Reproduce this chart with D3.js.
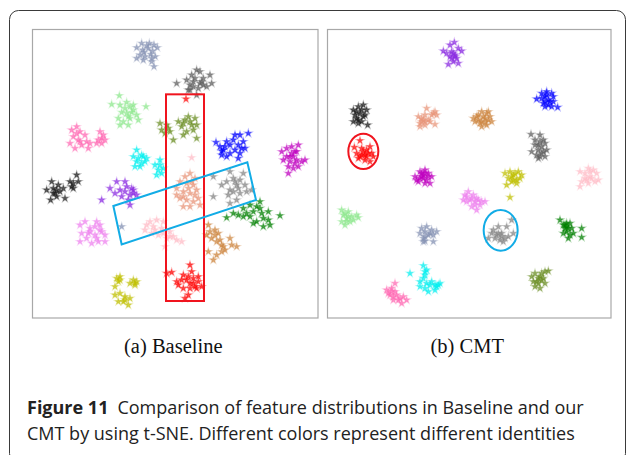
<!DOCTYPE html>
<html>
<head>
<meta charset="utf-8">
<script src="https://cdn.jsdelivr.net/npm/d3@7"></script>
<style>
  html, body { margin: 0; padding: 0; background: #fff; }
  svg { display: block; }
</style>
</head>
<body>
<svg id="fig" width="627" height="455"></svg>
<script>
// Identities shared by both embeddings (one colour per identity)
const identities = ["slate", "dimgray", "lightgreen", "olivedrab", "hotpink", "cyan",
  "blue", "magenta", "darksalmon", "gray", "black", "blueviolet", "green", "violet",
  "pink", "peru", "red", "yellow"];
const identityColors = ["#8592b4", "#5e5e5e", "#8ee88e", "#6b8e23", "#ff69b4", "#00f0f0",
  "#0000ff", "#bf00bf", "#e9967a", "#858585", "#1a1a1a", "#8a2be2", "#008000", "#ee82ee",
  "#ffbcc8", "#cd853f", "#ff0000", "#bfbf00"];

// t-SNE embedding of the Baseline features (one list per identity, same order as identities)
const baselineTsne = [
  [[320,68],[338,75],[358,55],[372,60],[382,68],[345,95],[362,88],[376,95],[320,100],[340,105],[365,110],[372,125],[335,55],[355,70],[368,78],[342,82],[350,62],[365,100],[330,90],[275,605]],
  [[440,175],[470,165],[485,150],[500,135],[510,140],[520,160],[540,150],[545,175],[530,185],[505,190],[490,185],[475,195],[500,210],[515,170],[495,160],[510,175],[480,180],[490,170],[520,180],[480,195]],
  [[245,238],[268,212],[270,240],[290,232],[300,245],[310,255],[290,265],[275,262],[265,280],[280,290],[300,280],[320,270],[325,285],[348,245],[295,300],[270,300],[305,262],[285,250],[295,275],[310,240]],
  [[390,295],[395,315],[410,300],[420,320],[430,345],[445,290],[460,295],[475,275],[480,290],[495,280],[500,300],[470,320],[460,330],[500,340],[405,325],[455,305],[485,300],[415,310],[465,285],[490,315]],
  [[125,315],[140,305],[150,320],[130,335],[145,345],[120,355],[135,370],[155,360],[165,330],[170,350],[175,370],[180,355],[210,320],[220,330],[205,345],[215,355],[225,345],[200,355],[140,325],[150,350],[215,340]],
  [[320,375],[310,395],[320,410],[330,425],[340,395],[345,410],[335,390],[315,425],[350,400],[375,420],[390,405],[385,435],[395,445],[380,450],[400,430],[325,400],[335,415],[390,420]],
  [[558,352],[570,365],[580,375],[575,390],[590,350],[600,360],[615,330],[630,330],[655,325],[640,350],[645,370],[630,385],[615,375],[600,385],[625,400],[590,395],[610,345],[585,365],[625,360],[635,370],[575,378]],
  [[755,380],[770,370],[785,365],[805,360],[800,380],[790,395],[770,395],[760,405],[780,410],[800,405],[815,410],[825,405],[775,425],[790,430],[805,425],[775,445],[795,380],[785,385],[795,415],[780,395]],
  [[465,455],[480,445],[495,460],[450,470],[470,475],[490,480],[440,490],[460,500],[480,505],[500,495],[450,520],[470,525],[490,530],[505,520],[460,545],[480,545],[510,540],[440,510],[475,490],[460,515],[495,510],[485,470]],
  [[550,455],[575,480],[590,470],[600,440],[610,460],[620,480],[630,465],[645,480],[610,500],[630,505],[650,500],[665,495],[595,510],[600,535],[620,525],[550,515],[640,445],[615,470],[625,490],[600,495]],
  [[50,495],[65,470],[70,490],[85,480],[90,500],[80,515],[62,525],[105,520],[100,490],[120,470],[130,490],[140,450],[145,470],[125,485],[75,505],[80,495],[130,475],[70,505]],
  [[215,525],[240,490],[260,470],[285,470],[270,495],[255,505],[285,500],[295,525],[300,540],[310,495],[320,510],[300,510],[275,515],[305,490],[290,485],[310,505]],
  [[590,578],[610,565],[625,570],[640,550],[660,540],[670,560],[690,530],[690,550],[700,580],[715,560],[720,600],[700,605],[680,590],[660,575],[650,565],[750,572],[715,585],[670,595],[680,545],[695,565],[640,575]],
  [[150,600],[165,590],[180,610],[200,590],[210,600],[155,625],[175,625],[195,630],[215,620],[225,630],[150,650],[185,655],[205,650],[225,650],[170,640],[195,605],[180,620],[200,640],[210,615]],
  [[345,615],[360,590],[380,585],[400,590],[370,605],[395,610],[420,620],[430,635],[410,640],[385,630],[365,625],[440,645],[405,665],[455,650],[350,600],[375,615],[400,625],[420,635],[485,398]],
  [[535,600],[540,620],[555,615],[565,625],[545,640],[560,650],[575,660],[600,640],[605,660],[620,665],[575,680],[560,690],[535,680],[585,675],[550,705],[530,630],[555,630],[570,645],[580,665]],
  [[410,745],[425,742],[440,770],[460,750],[480,720],[485,740],[470,765],[490,760],[505,755],[515,785],[500,790],[480,790],[460,790],[475,810],[445,780],[490,775],[465,820],[505,770],[475,755],[480,775],[495,785],[455,765],[468,222]],
  [[260,760],[270,755],[265,770],[255,785],[310,765],[320,770],[315,780],[300,775],[255,810],[270,805],[265,830],[280,830],[295,840],[300,820],[285,815],[270,765],[315,775],[285,825]]
];

// t-SNE embedding of the CMT features
const cmtTsne = [
  [[290,610],[305,605],[285,625],[300,635],[315,625],[320,615],[335,620],[300,648],[325,630],[325,650],[295,650],[300,620],[310,630],[295,640]],
  [[618,328],[630,345],[645,330],[655,345],[660,355],[640,360],[630,360],[620,380],[640,375],[655,380],[665,375],[645,395],[660,395],[640,400],[645,350],[650,365],[650,385],[635,390]],
  [[50,555],[55,570],[70,560],[65,580],[80,575],[95,570],[100,578],[75,590],[60,600],[50,590],[85,585],[60,565],[70,575],[65,590]],
  [[620,755],[630,745],[640,760],[650,745],[660,740],[670,738],[650,765],[640,775],[630,785],[660,775],[625,770],[645,790],[645,755],[655,760],[635,770]],
  [[210,775],[185,795],[200,790],[210,800],[195,810],[215,810],[220,825],[235,815],[245,825],[205,825],[230,835],[190,805],[200,800],[205,815],[225,820]],
  [[255,745],[295,722],[305,735],[300,750],[295,760],[285,770],[305,775],[300,790],[320,770],[330,780],[340,780],[345,775],[330,795],[310,800],[285,785],[300,740],[315,780],[335,785]],
  [[635,222],[650,205],[665,200],[680,205],[660,215],[670,225],[655,235],[670,240],[685,230],[698,247],[680,245],[660,245],[685,215],[665,210],[675,230],[660,230],[650,220]],
  [[270,455],[285,440],[300,435],[310,445],[320,455],[295,460],[280,470],[300,475],[315,475],[290,455],[305,465],[275,465],[290,445],[295,450],[310,455],[285,460],[300,445]],
  [[280,275],[290,290],[300,270],[305,250],[310,285],[285,305],[300,300],[320,270],[330,260],[335,270],[330,298],[295,285],[290,280],[300,290],[285,295],[325,265],[315,290]],
  [[490,640],[505,615],[520,605],[530,625],[545,605],[550,635],[565,625],[560,585],[540,640],[525,645],[500,625],[515,630],[535,650],[520,625],[530,635],[510,640]],
  [[85,255],[100,245],[115,240],[90,270],[105,265],[120,270],[125,255],[85,290],[100,295],[110,290],[128,300],[95,280],[95,260],[110,255],[115,275],[100,285]],
  [[355,78],[375,60],[388,52],[400,70],[410,78],[380,80],[390,90],[375,95],[395,100],[385,110],[370,118],[400,115],[365,85],[385,85],[390,95],[380,100]],
  [[705,585],[715,600],[725,605],[735,595],[740,610],[725,620],[715,625],[735,630],[745,625],[730,640],[770,610],[770,637],[720,610],[725,595],[730,610],[720,600]],
  [[420,510],[430,500],[440,520],[425,530],[450,530],[465,540],[480,530],[455,555],[440,545],[435,525],[460,525],[415,525],[425,515],[445,510],[450,540],[470,530],[455,520]],
  [[765,440],[780,445],[790,430],[805,435],[815,445],[780,460],[795,455],[810,470],[790,475],[770,470],[765,485],[820,465],[795,440],[800,460],[785,465]],
  [[445,280],[460,270],[470,260],[485,265],[495,275],[500,290],[480,280],[465,295],[485,300],[470,305],[450,290],[490,260],[475,275],[460,285],[480,292],[490,285],[470,290],[455,275]],
  [[105,347],[88,367],[110,370],[125,375],[135,365],[95,385],[110,390],[125,395],[140,385],[145,395],[120,405],[135,410],[100,400],[115,380],[120,390],[130,385],[105,395]],
  [[540,445],[550,460],[555,440],[565,450],[580,440],[590,450],[575,465],[560,470],[545,480],[575,475],[585,460],[560,455],[570,445],[565,465],[555,517]]
];

// Highlighted regions, in embedding units
const baselineBox = [[408,208],[522,828]];
const baselineBand = [[250,543],[652,412],[678,525],[275,658]];
const cmtRedRing = {cx: 115, cy: 379, rx: 45, ry: 53};
const cmtBlueRing = {cx: 527, cy: 616, rx: 51, ry: 61};

const panelTitles = ["(a) Baseline", "(b) CMT"];
const captionLead = "Figure 11";
const captionLines = ["Comparison of feature distributions in Baseline and our",
  "CMT by using t-SNE. Different colors represent different identities"];

const svg = d3.select("#fig");

// outer rounded frame of the figure
svg.append("rect")
  .attr("x", 9.5).attr("y", 10.5).attr("width", 616).attr("height", 452)
  .attr("rx", 9).attr("ry", 9)
  .attr("fill", "none").attr("stroke", "#3a3a3a").attr("stroke-width", 1);

const panels = [
  {left: 32.5, top: 29.5, right: 318, bottom: 318, ox: 30, data: baselineTsne},
  {left: 327.5, top: 29.5, right: 611, bottom: 318, ox: 325, data: cmtTsne}
];

const star = d3.symbol().type(d3.symbolStar).size(15);

panels.forEach((p, pi) => {
  const x = d3.scaleLinear().domain([0, 870]).range([p.ox, p.ox + 290]);
  const y = d3.scaleLinear().domain([0, 885]).range([25, 320]);
  const g = svg.append("g");

  g.append("rect")
    .attr("x", p.left).attr("y", p.top)
    .attr("width", p.right - p.left).attr("height", p.bottom - p.top)
    .attr("fill", "#fff").attr("stroke", "#a8a8a8").attr("stroke-width", 1.2);

  p.data.forEach((pts, k) => {
    g.append("g").selectAll("path").data(pts).join("path")
      .attr("d", star)
      .attr("transform", d => `translate(${x(d[0])},${y(d[1])})`)
      .attr("fill", identityColors[k])
      .attr("fill-opacity", 0.72)
      .attr("stroke", identityColors[k])
      .attr("stroke-opacity", 0.3)
      .attr("stroke-width", 1.3);
  });

  if (pi === 0) {
    g.append("rect")
      .attr("x", x(baselineBox[0][0])).attr("y", y(baselineBox[0][1]))
      .attr("width", x(baselineBox[1][0]) - x(baselineBox[0][0]))
      .attr("height", y(baselineBox[1][1]) - y(baselineBox[0][1]))
      .attr("fill", "none").attr("stroke", "#f0141e").attr("stroke-width", 2);
    g.append("polygon")
      .attr("points", baselineBand.map(d => [x(d[0]), y(d[1])].join(",")).join(" "))
      .attr("fill", "none").attr("stroke", "#12ace6").attr("stroke-width", 2);
  } else {
    [[cmtRedRing, "#f0141e"], [cmtBlueRing, "#12ace6"]].forEach(([r, c]) => {
      g.append("ellipse")
        .attr("cx", x(r.cx)).attr("cy", y(r.cy))
        .attr("rx", x(r.rx) - x(0)).attr("ry", y(r.ry) - y(0))
        .attr("fill", "none").attr("stroke", c).attr("stroke-width", 2);
    });
  }

  svg.append("text")
    .attr("x", (p.left + p.right) / 2 - 2).attr("y", 353)
    .attr("text-anchor", "middle")
    .attr("font-family", "'Liberation Serif', 'Times New Roman', serif")
    .attr("font-size", 20.5).attr("fill", "#111")
    .text(panelTitles[pi]);
});

// caption
const cap = svg.append("text")
  .attr("font-family", "'Open Sans', 'Noto Sans', sans-serif")
  .attr("font-size", 18).attr("fill", "#222");
const l1 = cap.append("tspan").attr("x", 27).attr("y", 414);
l1.append("tspan").attr("font-weight", "bold").text(captionLead);
l1.append("tspan").text("\u2002" + captionLines[0]);
cap.append("tspan").attr("x", 27).attr("y", 440).text(captionLines[1]);
</script>
</body>
</html>
